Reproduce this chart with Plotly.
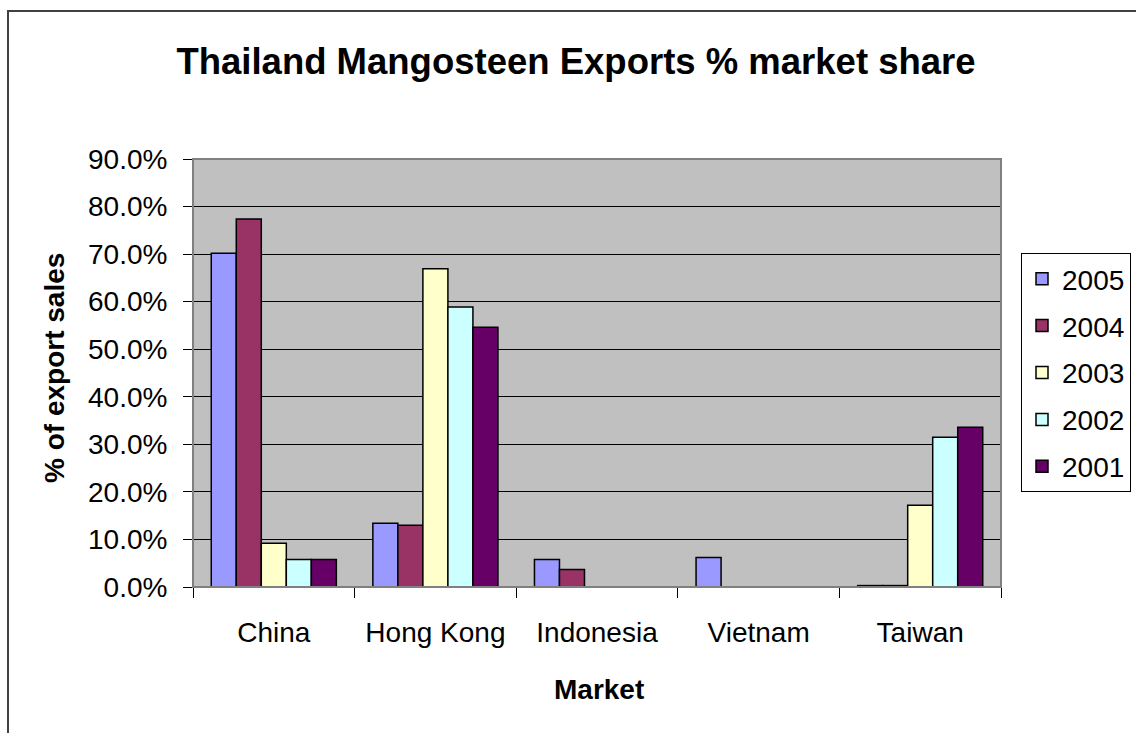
import plotly.graph_objects as go

markets = ["China", "Hong Kong", "Indonesia", "Vietnam", "Taiwan"]
years = ["2005", "2004", "2003", "2002", "2001"]
share_2005 = [70.2, 13.4, 5.8, 6.2, 0.3]
share_2004 = [77.4, 13.0, 3.7, 0.0, 0.3]
share_2003 = [9.2, 66.9, 0.0, 0.0, 17.2]
share_2002 = [5.8, 58.9, 0.0, 0.0, 31.5]
share_2001 = [5.8, 54.6, 0.0, 0.0, 33.6]
series = [share_2005, share_2004, share_2003, share_2002, share_2001]
colors = ["#9999FF", "#993366", "#FFFFCC", "#CCFFFF", "#660066"]
y_ticks = [0, 10, 20, 30, 40, 50, 60, 70, 80, 90]
y_tick_text = [f"{v:.1f}%" for v in y_ticks]

FONT = "Arial, Liberation Sans, sans-serif"

fig = go.Figure()
for i, (yr, vals, col) in enumerate(zip(years, series, colors)):
    fig.add_trace(go.Bar(
        x=markets, y=vals, name=yr, legendgroup=yr,
        marker=dict(color=col, line=dict(color="black", width=1.5)),
    ))

W, H = 1136, 733
L, R, T, B = 193, 1001, 159, 587
pw, ph = R - L, B - T

def px(x):
    return (x - L) / pw

def py(y):
    return (B - y) / ph

fig.update_layout(
    width=W, height=H,
    margin=dict(l=L, r=W - R, t=T, b=H - B, autoexpand=False),
    paper_bgcolor="white",
    plot_bgcolor="#C0C0C0",
    barmode="group",
    bargap=0.226,
    bargroupgap=0,
    font=dict(family=FONT, size=28, color="black"),
    title=dict(text="<b>Thailand Mangosteen Exports % market share</b>",
               x=576 / W, xanchor="center", xref="container",
               y=1 - 61 / H, yanchor="middle", yref="container",
               font=dict(family=FONT, size=36.5, color="black")),
    legend=dict(x=px(1021), y=py(253), xanchor="left", yanchor="top",
                bordercolor="black", borderwidth=1, bgcolor="white",
                font=dict(family=FONT, size=28, color="black"),
                tracegroupgap=7.5, itemwidth=30),
    showlegend=True,
)

fig.update_xaxes(
    type="category",
    showline=True, linecolor="black", linewidth=1,
    ticks="outside", tickson="boundaries", ticklen=10, tickcolor="black",
    showgrid=False,
    tickfont=dict(family=FONT, size=28, color="black"),
    ticklabelstandoff=20,
)
fig.update_yaxes(
    range=[0, 90], tickvals=y_ticks, ticktext=y_tick_text,
    showline=True, linecolor="black", linewidth=1,
    ticks="outside", ticklen=9, tickcolor="black",
    showgrid=True, gridcolor="black", gridwidth=1,
    zeroline=False,
    tickfont=dict(family=FONT, size=28, color="black"),
    ticklabelstandoff=10,
)

fig.add_annotation(text="<b>% of export sales</b>", xref="paper", yref="paper",
                   x=px(54), y=py(368), xanchor="center", yanchor="middle",
                   textangle=-90, showarrow=False,
                   font=dict(family=FONT, size=28, color="black"))
fig.add_annotation(text="<b>Market</b>", xref="paper", yref="paper",
                   x=px(599), y=py(689), xanchor="center", yanchor="middle",
                   showarrow=False,
                   font=dict(family=FONT, size=28, color="black"))

# plot area frame (top/right gray edge)
fig.add_shape(type="rect", xref="paper", yref="paper", x0=0, y0=0, x1=1, y1=1,
              line=dict(color="#808080", width=2), layer="above")
# outer chart frame
fig.add_shape(type="rect", xref="paper", yref="paper",
              x0=px(8), y0=py(745), x1=px(1145), y1=py(11),
              line=dict(color="#404040", width=2), layer="above")

fig.write_html("out.html")
